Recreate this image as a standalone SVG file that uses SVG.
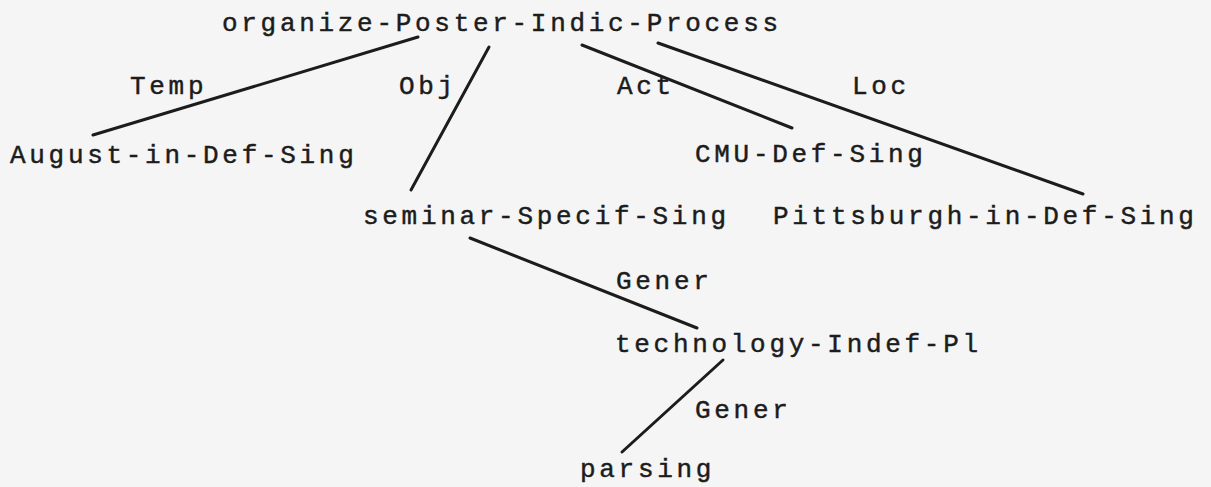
<svg xmlns="http://www.w3.org/2000/svg" width="1211" height="487" viewBox="0 0 1211 487">
  <style>
    .t { font-family: "Liberation Mono", "DejaVu Sans Mono", monospace; font-size: 26px; letter-spacing: 3.7px; fill: #1c1c1c; stroke: #1c1c1c; stroke-width: 0.45; }
    .e { stroke: #1c1c1c; stroke-width: 3; stroke-linecap: round; fill: none; }
  </style>
  <rect width="1211" height="487" fill="#f5f5f5"/>

  <!-- dependency edges -->
  <g id="edges" class="e">
    <line x1="418" y1="37" x2="93" y2="135"/>
    <line x1="489" y1="47" x2="411" y2="190"/>
    <line x1="582" y1="45" x2="792" y2="128"/>
    <line x1="658" y1="43" x2="1083" y2="194"/>
    <line x1="470" y1="238" x2="697" y2="328"/>
    <line x1="723" y1="360" x2="622" y2="452"/>
  </g>

  <!-- edge labels -->
  <g id="labels">
    <text class="t" x="130" y="94">Temp</text>
    <text class="t" x="399" y="94">Obj</text>
    <text class="t" x="617" y="94">Act</text>
    <text class="t" x="852" y="94">Loc</text>
    <text class="t" x="616" y="289">Gener</text>
    <text class="t" x="695" y="418">Gener</text>
  </g>

  <!-- nodes -->
  <g id="n-organize"><text class="t" x="222" y="31">organize-Poster-Indic-Process</text></g>
  <g id="n-august"><text class="t" x="10" y="163">August-in-Def-Sing</text></g>
  <g id="n-cmu"><text class="t" x="695" y="162">CMU-Def-Sing</text></g>
  <g id="n-seminar"><text class="t" x="363" y="224">seminar-Specif-Sing</text></g>
  <g id="n-pittsburgh"><text class="t" x="773" y="224">Pittsburgh-in-Def-Sing</text></g>
  <g id="n-technology"><text class="t" x="615" y="352">technology-Indef-Pl</text></g>
  <g id="n-parsing"><text class="t" x="580" y="477">parsing</text></g>
</svg>
